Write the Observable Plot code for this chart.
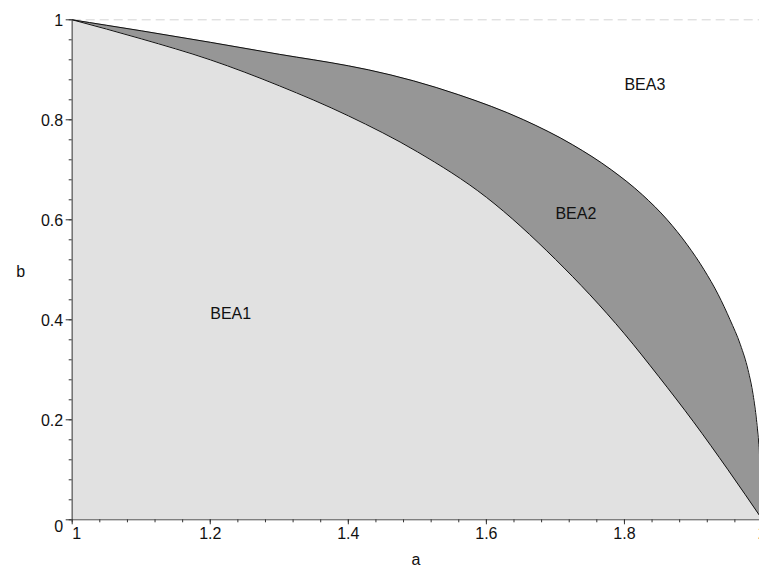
<!DOCTYPE html>
<html>
<head>
<meta charset="utf-8">
<script src="https://cdn.jsdelivr.net/npm/d3@7"></script>
<script src="https://cdn.jsdelivr.net/npm/@observablehq/plot@0.6"></script>
<style>
  html, body { margin: 0; padding: 0; background: white; overflow: hidden; }
  #chart svg { display: block; }
</style>
</head>
<body>
<div id="chart"></div>
<script>
// Upper boundary (BEA2 / BEA3)
const upperA = [1, 1.05, 1.1, 1.2, 1.3, 1.4, 1.429, 1.56, 1.654, 1.725, 1.781, 1.826, 1.862, 1.891, 1.9154, 1.936, 1.953, 1.968, 1.979, 1.9864, 1.9913, 1.9947, 1.997, 1.9985, 2];
const upperB = [1, 0.989, 0.978, 0.955, 0.931, 0.908, 0.9, 0.85, 0.8, 0.75, 0.7, 0.65, 0.6, 0.55, 0.5, 0.45, 0.4, 0.35, 0.3, 0.25, 0.2, 0.15, 0.1, 0.05, 0];
// Lower boundary (BEA1 / BEA2)
const lowerA = [1, 1.1, 1.2, 1.3, 1.4, 1.5, 1.6, 1.7, 1.8, 1.85, 1.9, 1.95, 2];
const lowerB = [1, 0.962, 0.92, 0.868, 0.808, 0.736, 0.645, 0.521, 0.372, 0.286, 0.196, 0.1, 0];

// Region labels
const regionNames = ["BEA1", "BEA2", "BEA3"];
const regionA = [1.2, 1.7, 1.8];
const regionB = [0.411, 0.611, 0.869];

// Ticks
const xTicks = [1, 1.2, 1.4, 1.6, 1.8, 2];
const xTickLabels = ["1", "1.2", "1.4", "1.6", "1.8", "2"];
const yTicks = [0, 0.2, 0.4, 0.6, 0.8, 1];
const yTickLabels = ["0", "0.2", "0.4", "0.6", "0.8", "1"];
const minorX = d3.range(0, 26).map(i => 1 + i * 0.04);
const minorY = d3.range(0, 26).map(i => i * 0.04);

const upper = upperA.map((a, i) => ({a, b: upperB[i]}));
const lower = lowerA.map((a, i) => ({a, b: lowerB[i]}));
const regions = regionNames.map((name, i) => ({name, a: regionA[i], b: regionB[i]}));
const xLab = xTicks.map((v, i) => ({v, t: xTickLabels[i]}));
const yLab = yTicks.map((v, i) => ({v, t: yTickLabels[i]}));

const W = 759, H = 569;
const mL = 71.7, mT = 19.3, mB = 49.7;

const chart = Plot.plot({
  width: W,
  height: H,
  marginLeft: mL,
  marginRight: 0,
  marginTop: mT,
  marginBottom: mB,
  style: {fontFamily: "'Liberation Sans', Arial, sans-serif", fontSize: "16px", color: "black", background: "white"},
  x: {domain: [1, 2], range: [mL, 762], axis: null},
  y: {domain: [0, 1], range: [H - mB, mT], axis: null},
  marks: [
    Plot.ruleY([1], {stroke: "#d4d4d4", strokeDasharray: "9,5", strokeWidth: 1}),
    Plot.areaY(upper, {x: "a", y: "b", fill: "#969696", curve: "monotone-x"}),
    Plot.areaY(lower, {x: "a", y: "b", fill: "#e1e1e1", curve: "monotone-x"}),
    Plot.line(upper, {x: "a", y: "b", stroke: "#111", strokeWidth: 1, curve: "monotone-x"}),
    Plot.line(lower, {x: "a", y: "b", stroke: "#111", strokeWidth: 1, curve: "monotone-x"}),
    // axes lines
    Plot.ruleX([1], {stroke: "#444", strokeWidth: 1}),
    Plot.ruleY([0], {stroke: "#555", strokeWidth: 1}),
    // minor ticks
    Plot.axisX(minorX, {anchor: "bottom", tickSize: 3, tickFormat: () => "", stroke: "#333"}),
    Plot.axisY(minorY, {anchor: "left", tickSize: 3, tickFormat: () => "", stroke: "#333"}),
    // major ticks
    Plot.axisX(xTicks, {anchor: "bottom", tickSize: 5, tickFormat: () => "", stroke: "#333"}),
    Plot.axisY(yTicks, {anchor: "left", tickSize: 6, tickFormat: () => "", stroke: "#333"}),
    // tick labels
    Plot.text(xLab.filter(d => d.v !== 1), {x: "v", text: "t", frameAnchor: "bottom", lineAnchor: "top", dy: 8, fill: "#111"}),
    Plot.text(xLab.filter(d => d.v === 1), {x: "v", text: "t", frameAnchor: "bottom", lineAnchor: "top", textAnchor: "start", dy: 8, dx: 0, fill: "#111"}),
    Plot.text(yLab.filter(d => d.v !== 0), {y: "v", text: "t", frameAnchor: "left", textAnchor: "end", dx: -9, dy: 1, fill: "#111"}),
    Plot.text(yLab.filter(d => d.v === 0), {y: "v", text: "t", frameAnchor: "left", textAnchor: "end", dx: -9, dy: 7, fill: "#111"}),
    // axis titles
    Plot.text(["a"], {frameAnchor: "bottom", text: d => d, dy: 45, fill: "#111"}),
    Plot.text(["b"], {frameAnchor: "left", text: d => d, dx: -56, dy: 2, fill: "#111"}),
    // region labels
    Plot.text(regions, {x: "a", y: "b", text: "name", textAnchor: "start", fill: "#111"})
  ]
});
document.getElementById("chart").appendChild(chart);
</script>
</body>
</html>
